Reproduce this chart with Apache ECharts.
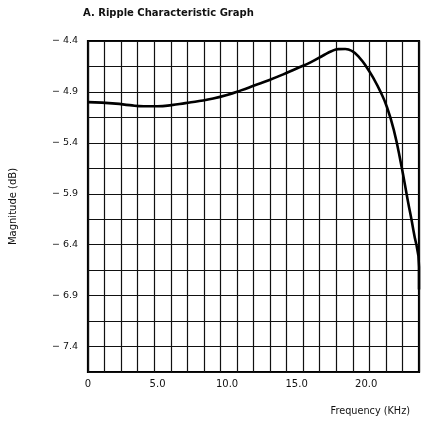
<!DOCTYPE html>
<html>
<head>
<meta charset="utf-8">
<script src="https://cdn.jsdelivr.net/npm/echarts@6/dist/echarts.min.js"></script>
<style>
html,body{margin:0;padding:0;background:#fff;}
#chart{width:421px;height:421px;}
</style>
</head>
<body>
<div id="chart"></div>
<script>
// Frequency (kHz) and magnitude (dB)
const freq = [0, 1, 2, 3, 4, 5, 6, 7, 8, 9, 10, 11, 12, 13, 14, 15, 16, 17, 17.5, 18, 18.5, 19, 19.5, 20, 20.5, 21, 21.5, 22, 22.5, 23, 23.4, 23.8, 23.8];
const magnitude = [-5.0, -5.005, -5.015, -5.03, -5.04, -5.04, -5.03, -5.01, -4.99, -4.965, -4.93, -4.885, -4.835, -4.785, -4.73, -4.67, -4.61, -4.535, -4.5, -4.48, -4.478, -4.5, -4.56, -4.65, -4.76, -4.89, -5.05, -5.28, -5.6, -5.97, -6.26, -6.62, -6.84];
const xTickLabels = [0, 5, 10, 15, 20];
const yTickLabels = [-4.4, -4.9, -5.4, -5.9, -6.4, -6.9, -7.4];

const data = freq.map((f, i) => [f, magnitude[i]]);
const font = '"DejaVu Sans", Verdana, sans-serif';

const chart = echarts.init(document.getElementById('chart'), null, {renderer: 'canvas'});
chart.setOption({
  animation: false,
  backgroundColor: '#fff',
  title: {
    text: 'A. Ripple Characteristic Graph',
    left: 78, top: 3,
    textStyle: {fontFamily: font, fontSize: 10, fontWeight: 'bold', color: '#111'}
  },
  grid: {left: 86, right: 2, top: 41, bottom: 49, show: true, borderColor: '#000', borderWidth: 2.2, backgroundColor: 'transparent'},
  xAxis: [
    {
      type: 'value', min: 0, max: 23.8, interval: 1.19, position: 'bottom',
      axisLine: {show: false}, axisTick: {show: false}, axisLabel: {show: false},
      splitLine: {show: true, lineStyle: {color: '#111', width: 1.2}}
    },
    {
      type: 'value', min: 0, max: 23.8, interval: 5, position: 'bottom', offset: 0,
      axisLine: {show: false}, axisTick: {show: false},
      splitLine: {show: false},
      axisLabel: {
        show: true, margin: 7, showMaxLabel: false,
        fontFamily: font, fontSize: 10, color: '#111',
        formatter: v => {
          const m = xTickLabels.find(t => Math.abs(t - v) < 1e-6);
          if (m === undefined) return '';
          return m === 0 ? '0' : m.toFixed(1);
        }
      }
    }
  ],
  yAxis: {
    type: 'value', min: -7.65, max: -4.4, interval: 0.25,
    name: 'Magnitude (dB)', nameLocation: 'middle', nameRotate: 90, nameGap: 70,
    nameTextStyle: {fontFamily: font, fontSize: 10, color: '#111'},
    axisLine: {show: false}, axisTick: {show: false},
    splitLine: {show: true, lineStyle: {color: '#111', width: 1.2}},
    axisLabel: {
      margin: 10, fontFamily: font, fontSize: 9.5, color: '#111',
      showMinLabel: true, showMaxLabel: true,
      formatter: v => {
        const m = yTickLabels.find(t => Math.abs(t - v) < 1e-6);
        if (m === undefined) return '';
        return '\u2212 ' + (-m).toFixed(1);
      }
    }
  },
  graphic: [{
    type: 'text', x: 410, y: 411,
    style: {text: 'Frequency (KHz)', font: '9.7px "DejaVu Sans", Verdana, sans-serif', fill: '#111', align: 'right', verticalAlign: 'middle'}
  }],
  series: [{
    type: 'line', xAxisIndex: 0, data: data, smooth: 0.5, showSymbol: false,
    lineStyle: {color: '#000', width: 2.6}, clip: false
  }]
});
</script>
</body>
</html>
